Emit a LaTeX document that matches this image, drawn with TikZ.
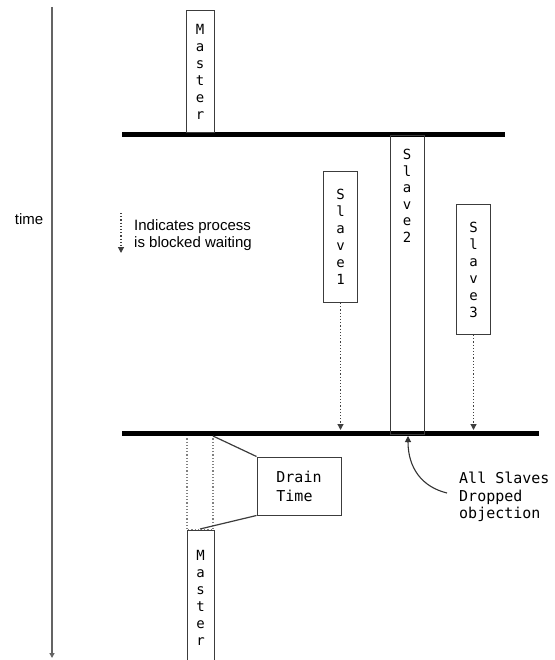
\documentclass[tikz,border=0pt]{standalone}
\usepackage{fontspec}
\setmainfont{Liberation Sans}
\setmonofont{DejaVu Sans Mono}
\usetikzlibrary{arrows.meta,positioning}
\definecolor{axisgray}{RGB}{100,100,100}
\definecolor{boxgray}{RGB}{60,60,60}

\begin{document}
\begin{tikzpicture}[
  x=1pt, y=-1pt,
  proc/.style={draw=boxgray, line width=1pt, inner sep=0pt, minimum width=28pt, font=\fontsize{14}{17}\selectfont\ttfamily, align=center},
  vtext/.style={inner sep=0pt, font=\fontsize{14}{16.6}\selectfont\ttfamily, align=center},
  drainbox/.style={draw=boxgray, line width=1pt, minimum width=84pt, minimum height=58pt, inner sep=0pt, font=\fontsize{15}{19}\selectfont\ttfamily, align=left},
  bar/.style={line width=5pt, black},
  wait/.style={dotted, line width=1.2pt, color=black!75, -{Triangle[length=6pt,width=6pt]}},
  faint/.style={dotted, line width=1.2pt, color=black!50},
  link/.style={line width=1.2pt, color=boxgray},
  note/.style={line width=1.1pt, color=black!80, -{Triangle[length=6pt,width=6pt]}},
  axis/.style={line width=1.5pt, color=axisgray, -{Triangle[length=5pt,width=5pt]}, shorten >=-2pt},
]
\clip (0,0) rectangle (554,660);

% time axis
\coordinate (tstart) at (52,7);
\coordinate (tend) at (52,656);
\draw[axis] (tstart) -- (tend);
\node[font=\fontsize{15}{17}\selectfont] (time) at (29,219) {time};

% legend
\coordinate (legtop) at (121,213);
\coordinate (legbot) at (121,253);
\draw[wait] (legtop) -- (legbot);
\node[anchor=west, align=left, inner sep=0pt, font=\fontsize{15}{17}\selectfont] (legend) at (134,235) {Indicates process\\is blocked waiting};

% drain window (behind the bar)
\draw[faint] (187,432) rectangle (213,530);

% bars
\coordinate (topbar) at (0,135);
\coordinate (botbar) at (0,433);
\coordinate (waitend) at (0,430);
\draw[bar] (122,135) -- (505,135);
\draw[bar] (122,433) -- (539,433);

% processes
\node[proc, anchor=south, minimum height=122pt] (master) at (200,133) {M\\a\\s\\t\\e\\r};
\node[proc, anchor=north, minimum width=34pt, minimum height=131pt] (slave1) at (340.5,171) {S\\l\\a\\v\\e\\1};
\node[proc, anchor=north, minimum width=34pt, minimum height=298pt] (slave2) at (407,135.5) {};
\node[vtext, anchor=north] (slave2txt) at (407,149) {S\\l\\a\\v\\e\\2};
\node[proc, anchor=north, minimum width=34pt, minimum height=130pt] (slave3) at (473.5,204) {S\\l\\a\\v\\e\\3};
\node[proc, anchor=north, minimum width=27pt, minimum height=135pt] (master2) at (200.5,530) {M\\a\\s\\t\\e\\r};

% blocked waiting
\draw[wait] (slave1.south) -- (slave1.south |- waitend);
\draw[wait] (slave3.south) -- (slave3.south |- waitend);

% drain time
\node[drainbox] (drain) at (299,486) {Drain\\Time};
\coordinate (dtop) at (213,436);
\coordinate (dbot) at (200,529);
\draw[link] (dtop) -- (drain.north west);
\draw[link] (dbot) -- (drain.south west);

% dropped objection
\node[anchor=west, align=left, inner sep=0pt, font=\fontsize{15}{17.5}\selectfont\ttfamily] (dropped) at (459,497) {All Slaves\\Dropped\\objection};
\coordinate (curvestart) at (447,493);
\coordinate (dropend) at (408,436);
\draw[note] (curvestart) .. controls (422,487) and (408,468) .. (dropend);
\end{tikzpicture}
\end{document}
